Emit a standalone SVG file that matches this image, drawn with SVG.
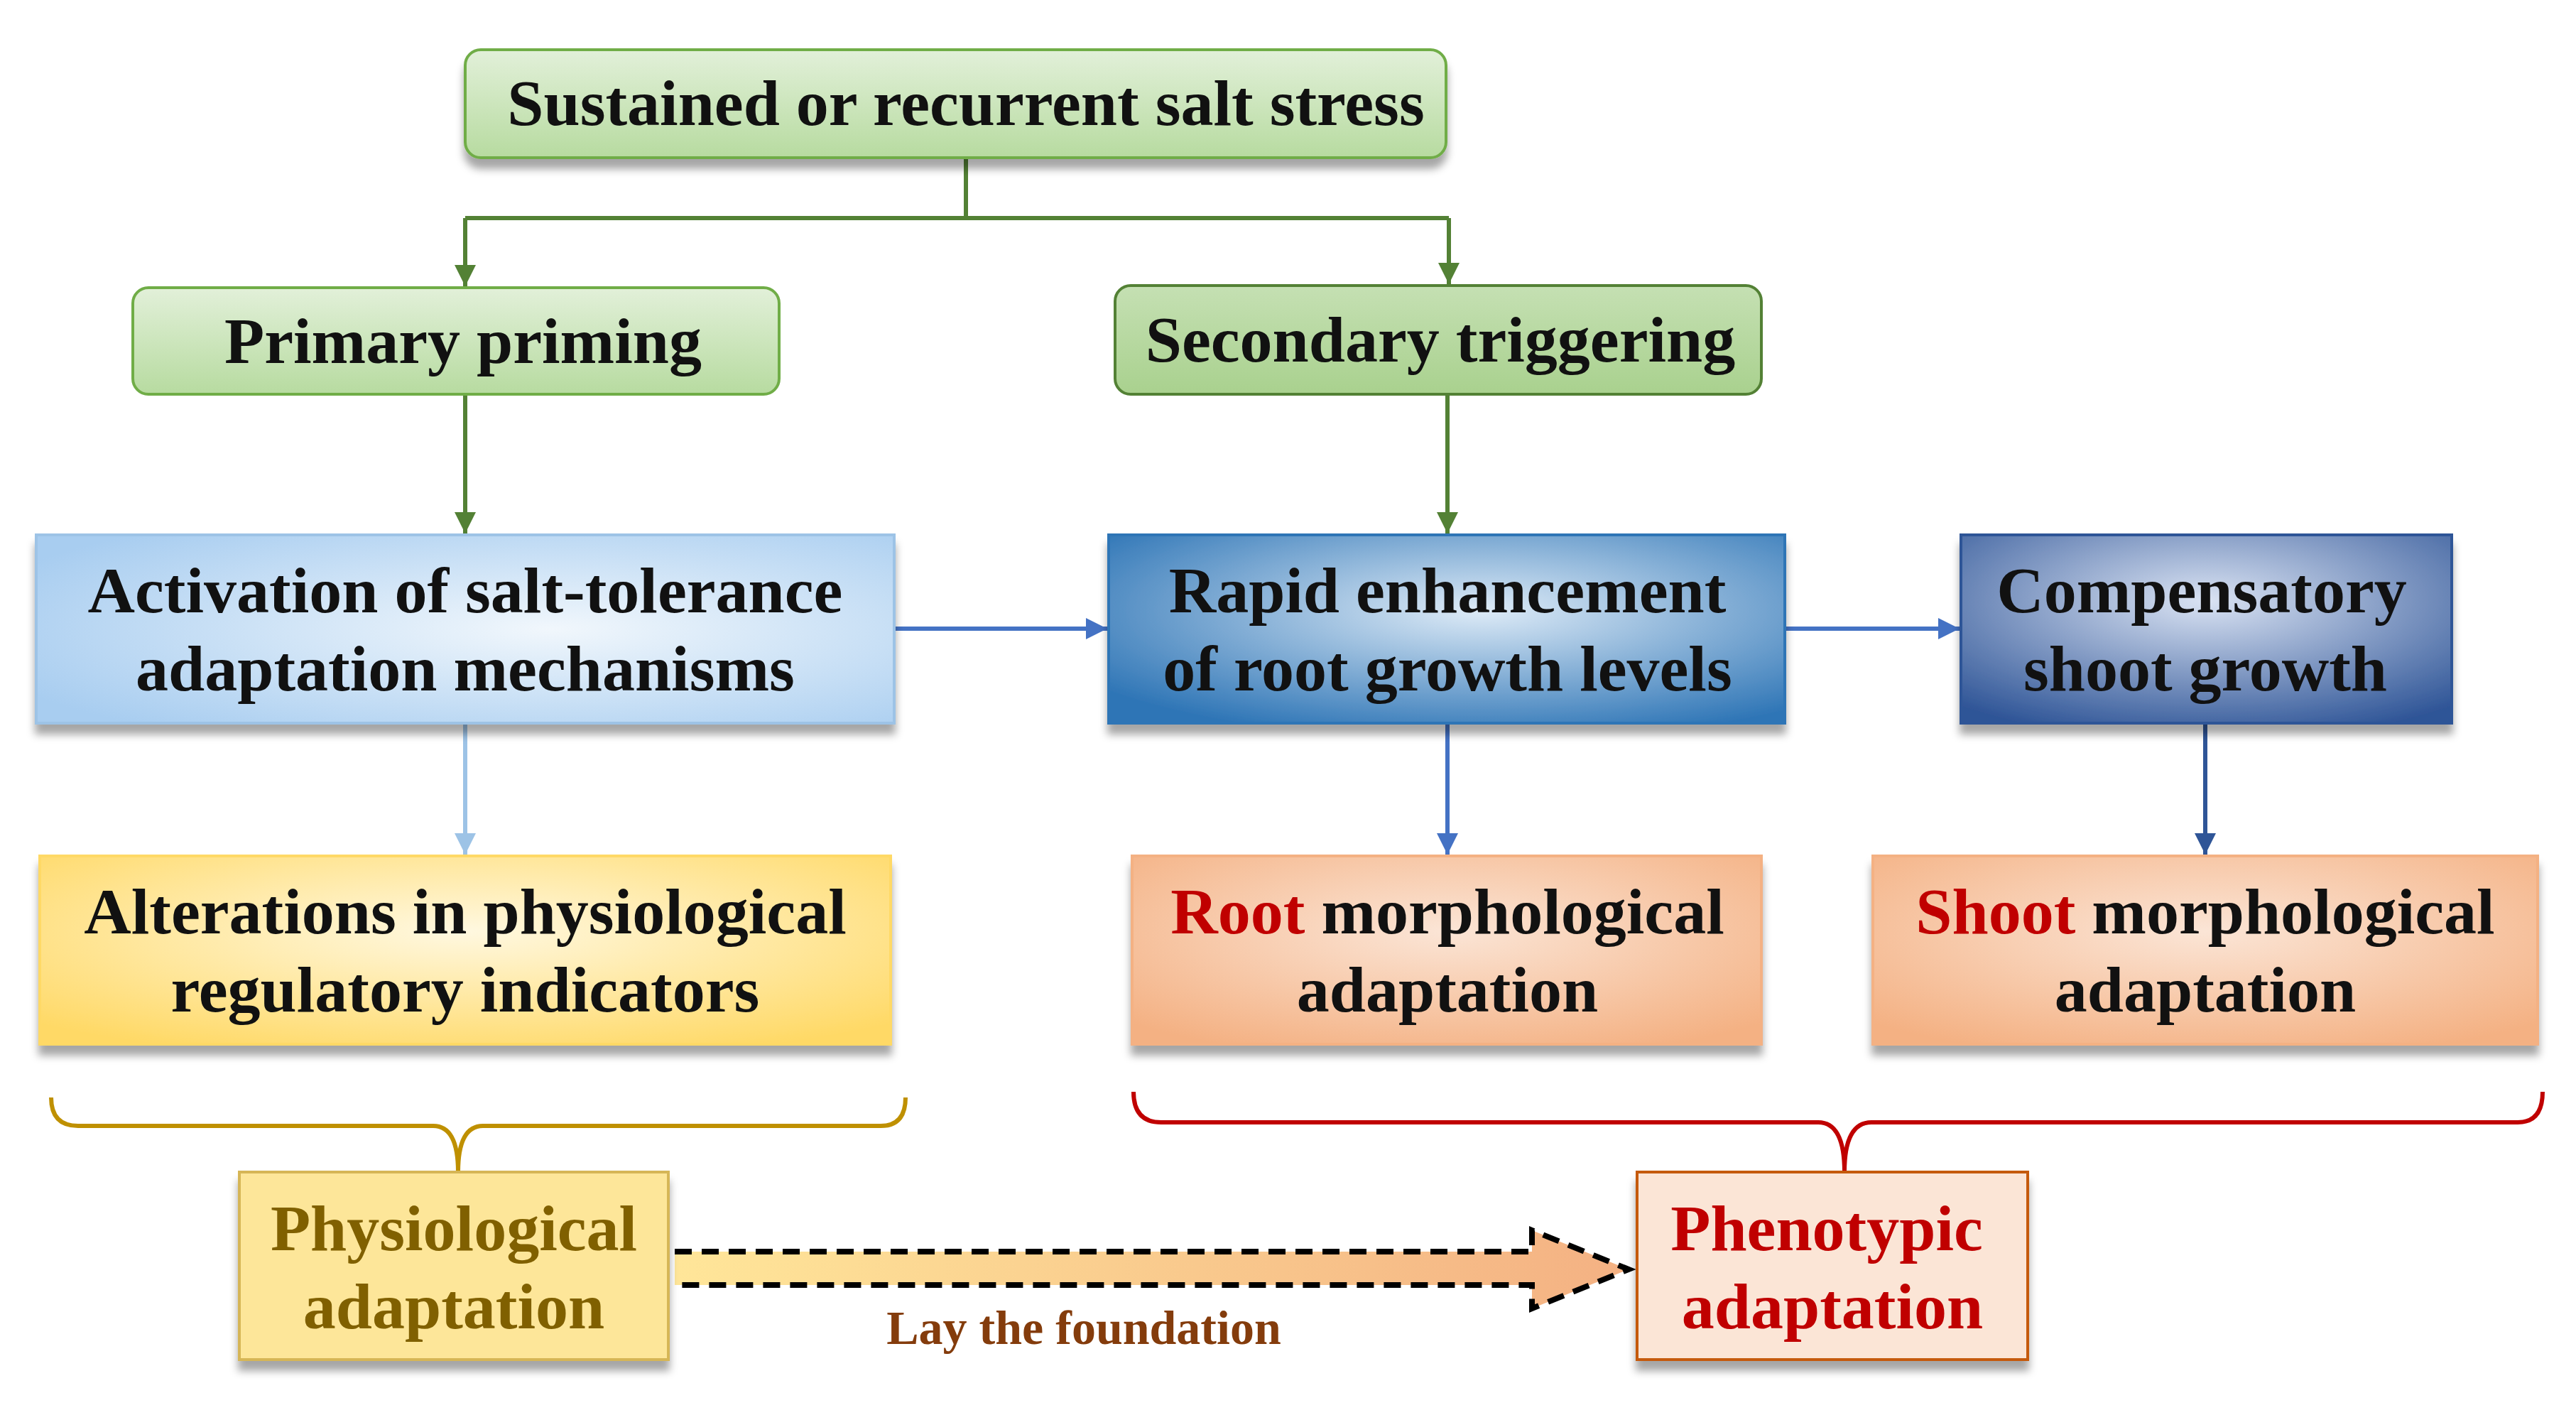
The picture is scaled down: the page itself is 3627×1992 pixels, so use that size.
<svg xmlns="http://www.w3.org/2000/svg" width="3627" height="1992" viewBox="0 0 3627 1992">
<defs>
<filter id="sh" x="-5%" y="-5%" width="110%" height="130%"><feDropShadow dx="0" dy="14" stdDeviation="6" flood-color="#000" flood-opacity="0.35"/></filter>
<linearGradient id="gGreen" x1="0" y1="0" x2="0" y2="1"><stop offset="0" stop-color="#e2f0d9"/><stop offset="1" stop-color="#b7dba0"/></linearGradient>
<linearGradient id="gGreen2" x1="0" y1="0" x2="0" y2="1"><stop offset="0" stop-color="#c5e0b3"/><stop offset="1" stop-color="#a9d18e"/></linearGradient>
<radialGradient id="gLB" cx="0.6" cy="0.5" r="0.7"><stop offset="0" stop-color="#f1f7fc"/><stop offset="1" stop-color="#a8cdf0"/></radialGradient>
<radialGradient id="gMB" cx="0.55" cy="0.4" r="0.7"><stop offset="0" stop-color="#deebf7"/><stop offset="1" stop-color="#2e75b6"/></radialGradient>
<radialGradient id="gDB" cx="0.5" cy="0.35" r="0.75"><stop offset="0" stop-color="#dae3f3"/><stop offset="1" stop-color="#2f5597"/></radialGradient>
<radialGradient id="gY" cx="0.5" cy="0.4" r="0.7"><stop offset="0" stop-color="#fff8e0"/><stop offset="1" stop-color="#ffd966"/></radialGradient>
<radialGradient id="gO" cx="0.5" cy="0.4" r="0.7"><stop offset="0" stop-color="#fbe5d6"/><stop offset="1" stop-color="#f4b183"/></radialGradient>
<linearGradient id="gArr" x1="0" y1="0" x2="1" y2="0"><stop offset="0" stop-color="#ffe699"/><stop offset="1" stop-color="#f4b183"/></linearGradient>
<marker id="mG" viewBox="0 0 10 10" refX="10" refY="5" markerWidth="5" markerHeight="5" orient="auto"><path d="M0,0 L10,5 L0,10 z" fill="#538135"/></marker>
<marker id="mB" viewBox="0 0 10 10" refX="10" refY="5" markerWidth="5" markerHeight="5" orient="auto"><path d="M0,0 L10,5 L0,10 z" fill="#4472c4"/></marker>
<marker id="mLB" viewBox="0 0 10 10" refX="10" refY="5" markerWidth="5" markerHeight="5" orient="auto"><path d="M0,0 L10,5 L0,10 z" fill="#9dc3e6"/></marker>
<marker id="mDB" viewBox="0 0 10 10" refX="10" refY="5" markerWidth="5" markerHeight="5" orient="auto"><path d="M0,0 L10,5 L0,10 z" fill="#2f5597"/></marker>
</defs>
<style>
text{font-family:"Liberation Serif","Times New Roman",serif;font-weight:bold;text-anchor:middle}
.t{font-size:92px;fill:#111}
.g{stroke:#538135;stroke-width:6;fill:none}
.b{stroke:#4472c4;stroke-width:6;fill:none}
</style>
<rect width="3627" height="1992" fill="#fff"/>
<g id="connectors">
<path class="g" d="M1360,222 V307 M655,307 H2040"/>
<path class="g" d="M655,307 V403" marker-end="url(#mG)"/>
<path class="g" d="M2040,307 V400" marker-end="url(#mG)"/>
<path class="g" d="M655,555 V751" marker-end="url(#mG)"/>
<path class="g" d="M2038,555 V751" marker-end="url(#mG)"/>
<path class="b" d="M1259,885 H1559" marker-end="url(#mB)"/>
<path class="b" d="M2513,885 H2759" marker-end="url(#mB)"/>
<path d="M655,1018 V1203" stroke="#9dc3e6" stroke-width="6" fill="none" marker-end="url(#mLB)"/>
<path class="b" d="M2038,1018 V1203" stroke="#2e75b6" marker-end="url(#mB)"/>
<path d="M3105,1018 V1203" stroke="#2f5597" stroke-width="6" fill="none" marker-end="url(#mDB)"/>
<path d="M72,1545 Q72,1585 110,1585 H610 Q645,1585 645,1650 Q645,1585 680,1585 H1240 Q1275,1585 1275,1545" stroke="#bf9000" stroke-width="6" fill="none"/>
<path d="M1596,1537 Q1596,1580 1635,1580 H2560 Q2597,1580 2597,1650 Q2597,1580 2635,1580 H3545 Q3580,1580 3580,1537" stroke="#c00000" stroke-width="6" fill="none"/>
<path d="M950,1762 H2157 V1732 L2293,1787 L2157,1842 V1809 H950 Z" fill="url(#gArr)"/>
<path d="M950,1762 H2157 V1732 L2293,1787 L2157,1842 V1809 H950" fill="none" stroke="#000" stroke-width="8" stroke-dasharray="24,14"/>
<text x="1526" y="1892" style="font-size:68px;fill:#843c0c">Lay the foundation</text>
</g>
<g id="n1"><rect x="655" y="70" width="1381" height="152" rx="22" fill="url(#gGreen)" stroke="#70ad47" stroke-width="4" filter="url(#sh)"/><text class="t" x="1360" y="176">Sustained or recurrent salt stress</text></g>
<g id="n2"><rect x="187" y="405" width="910" height="150" rx="22" fill="url(#gGreen)" stroke="#70ad47" stroke-width="4"/><text class="t" x="652" y="511">Primary priming</text></g>
<g id="n3"><rect x="1570" y="402" width="910" height="153" rx="22" fill="url(#gGreen2)" stroke="#538135" stroke-width="4"/><text class="t" x="2028" y="509">Secondary triggering</text></g>
<g id="n4"><rect x="51" y="753" width="1208" height="265" fill="url(#gLB)" stroke="#9dc3e6" stroke-width="4" filter="url(#sh)"/><text class="t" x="655" y="862">Activation of salt-tolerance</text><text class="t" x="655" y="972">adaptation mechanisms</text></g>
<g id="n5"><rect x="1561" y="753" width="952" height="265" fill="url(#gMB)" stroke="#2e75b6" stroke-width="4" filter="url(#sh)"/><text class="t" x="2038" y="862">Rapid enhancement</text><text class="t" x="2038" y="972">of root growth levels</text></g>
<g id="n6"><rect x="2761" y="753" width="691" height="265" fill="url(#gDB)" stroke="#2f5597" stroke-width="4" filter="url(#sh)"/><text class="t" x="3100" y="862">Compensatory</text><text class="t" x="3105" y="972">shoot growth</text></g>
<g id="n7"><rect x="56" y="1205" width="1198" height="265" fill="url(#gY)" stroke="#ffd966" stroke-width="4" filter="url(#sh)"/><text class="t" x="655" y="1314">Alterations in physiological</text><text class="t" x="655" y="1424">regulatory indicators</text></g>
<g id="n8"><rect x="1594" y="1205" width="886" height="265" fill="url(#gO)" stroke="#f4b183" stroke-width="4" filter="url(#sh)"/><text class="t" x="2038" y="1314"><tspan fill="#c00000">Root</tspan> morphological</text><text class="t" x="2038" y="1424">adaptation</text></g>
<g id="n9"><rect x="2637" y="1205" width="936" height="265" fill="url(#gO)" stroke="#f4b183" stroke-width="4" filter="url(#sh)"/><text class="t" x="3105" y="1314"><tspan fill="#c00000">Shoot</tspan> morphological</text><text class="t" x="3105" y="1424">adaptation</text></g>
<g id="n10"><rect x="337" y="1650" width="604" height="264" fill="#fde699" stroke="#d6b656" stroke-width="4" filter="url(#sh)"/><text class="t" x="639" y="1760" style="fill:#806000">Physiological</text><text class="t" x="639" y="1870" style="fill:#806000">adaptation</text></g>
<g id="n11"><rect x="2305" y="1650" width="550" height="264" fill="#fbe5d6" stroke="#c55a11" stroke-width="4" filter="url(#sh)"/><text class="t" x="2572" y="1760" style="fill:#c00000">Phenotypic</text><text class="t" x="2580" y="1870" style="fill:#c00000">adaptation</text></g>
</svg>
